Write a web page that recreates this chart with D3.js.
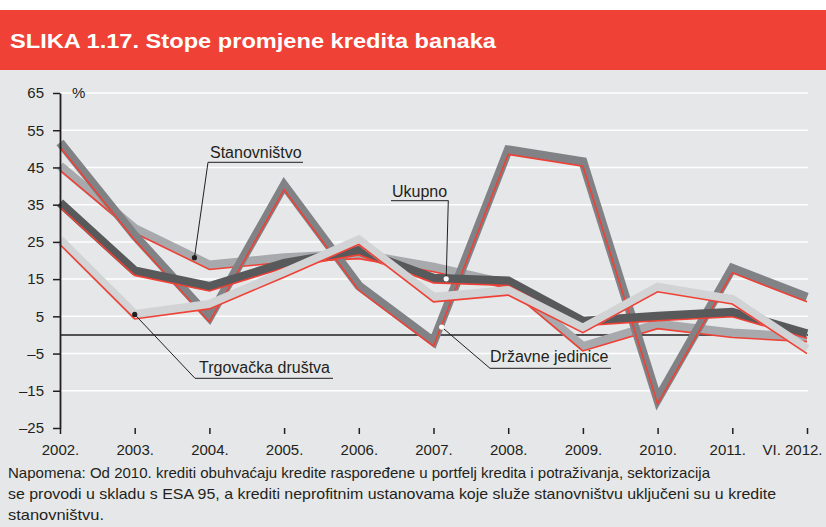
<!DOCTYPE html>
<html><head>
<meta charset="utf-8">
<title>Slika 1.17</title>
<style>
  body {margin:0; background:#e6e7e8;}
  svg {display:block; font-family:"Liberation Sans", Arial, Helvetica, sans-serif;}
</style>
</head>
<body>
<script src="https://d3js.org/d3.v7.min.js"></script>
<script>
// podaci (postotak promjene)
var years = ["2002.","2003.","2004.","2005.","2006.","2007.","2008.","2009.","2010.","2011.","VI. 2012."];
var stanovnistvo = [44.2, 27.4, 17.6, 19.5, 20.5, 17.0, 12.5, -4.3, 1.7, -0.7, -1.8];
var drzavne      = [50.5, 25.5, 3.5, 39.0, 12.0, -3.0, 48.5, 45.3, -18.5, 16.7, 8.9];
var ukupno       = [34.3, 16.0, 11.8, 18.0, 21.5, 14.0, 13.3, 2.5, 3.8, 4.9, -0.9];
var trgovacka    = [24.3, 4.3, 7.0, 15.5, 24.3, 8.9, 10.7, 0.6, 11.6, 8.3, -5.0];
var yTicks = [65, 55, 45, 35, 25, 15, 5, -5, -15, -25];

var width = 826, height = 527;
var ink = "#231f20", red = "#ef4136";

var svg = d3.select("body").append("svg")
    .attr("width", width)
    .attr("height", height);

svg.append("rect").attr("width", width).attr("height", height).attr("fill", "#e6e7e8");
svg.append("rect").attr("width", width).attr("height", 10).attr("fill", "#ffffff");
svg.append("rect").attr("y", 10).attr("width", width).attr("height", 60).attr("fill", red);
svg.append("text")
    .attr("x", 10).attr("y", 48)
    .attr("fill", "#fff")
    .attr("font-size", 20)
    .attr("font-weight", "bold")
    .attr("textLength", 486)
    .attr("lengthAdjust", "spacingAndGlyphs")
    .text("SLIKA 1.17. Stope promjene kredita banaka");

var x = d3.scalePoint().domain(years).range([60, 807]);
var y = d3.scaleLinear().domain([-25, 65]).range([428, 93]);

// bijele linije mreze
svg.append("g").selectAll("line")
    .data(yTicks.filter(function(d){ return d > -25; }))
    .enter().append("line")
    .attr("x1", 60).attr("x2", 808)
    .attr("y1", function(d){ return y(d); })
    .attr("y2", function(d){ return y(d); })
    .attr("stroke", "#fff").attr("stroke-width", 1.5);

// nula
svg.append("line")
    .attr("x1", 60).attr("x2", 808)
    .attr("y1", y(0)).attr("y2", y(0))
    .attr("stroke", ink).attr("stroke-width", 1.6);

var series = [
  {name:"Stanovništvo", values:stanovnistvo, color:"#a7a9ac"},
  {name:"Državne jedinice", values:drzavne, color:"#808285"},
  {name:"Ukupno", values:ukupno, color:"#58595b"},
  {name:"Trgovačka društva", values:trgovacka, color:"#d1d3d4"}
];

var shift = 4.5; // siva traka iznad crvene linije
var line = d3.line()
    .x(function(d, i){ return x(years[i]); })
    .y(function(d){ return y(d); });

series.forEach(function(s){
  var g = svg.append("g");
  g.append("path")
    .attr("d", line(s.values))
    .attr("transform", "translate(0," + (-shift) + ")")
    .attr("fill", "none")
    .attr("stroke", s.color)
    .attr("stroke-width", 9)
    .attr("stroke-linejoin", "miter")
    .attr("stroke-miterlimit", 10);
  g.append("path")
    .attr("d", line(s.values))
    .attr("fill", "none")
    .attr("stroke", red)
    .attr("stroke-width", 1.6)
    .attr("stroke-linejoin", "miter");
});

// osi
var yAxis = svg.append("g")
    .attr("transform", "translate(60,0)")
    .call(d3.axisLeft(y).tickValues(yTicks).tickSize(7).tickSizeOuter(0).tickPadding(9)
      .tickFormat(function(d){ return d < 0 ? "\u2013" + Math.abs(d) : d; }));
yAxis.select(".domain").attr("stroke", ink).attr("stroke-width", 1.8);
yAxis.selectAll(".tick line").attr("stroke", ink).attr("stroke-width", 1.5);
yAxis.selectAll("text").attr("font-size", 15).attr("fill", ink)
    .attr("font-family", "Liberation Sans, Arial, sans-serif");

var xAxis = svg.append("g")
    .attr("transform", "translate(0,428)")
    .call(d3.axisBottom(x).tickSize(6).tickSizeOuter(0).tickPadding(10));
xAxis.select(".domain").remove();
xAxis.selectAll(".tick line").attr("stroke", ink).attr("stroke-width", 1.5);
xAxis.selectAll("text").attr("font-size", 15).attr("fill", ink)
    .attr("font-family", "Liberation Sans, Arial, sans-serif");
xAxis.selectAll(".tick").filter(function(d){ return d === "VI. 2012."; })
    .select("text").attr("text-anchor", "end").attr("x", 15);
xAxis.selectAll(".tick").filter(function(d){ return d === "2011."; })
    .select("text").attr("x", -5);

svg.append("text")
    .attr("x", 72).attr("y", 98)
    .attr("font-size", 15).attr("fill", ink)
    .text("%");

// oznake serija
function pointOn(values, i, t, dx) {
  var v = values[i] + t * (values[i + 1] - values[i]);
  var px = x(years[i]) + t * (x(years[i + 1]) - x(years[i]));
  return [px + (dx || 0), y(v) - shift];
}

var labels = [
  {text:"Stanovništvo", tx:210, ty:157.5, ux1:208, ux2:303, uy:162.3, ax:208,
   p:pointOn(stanovnistvo, 1, 0.8), dot:ink},
  {text:"Ukupno", tx:392, ty:196.7, ux1:391, ux2:448.5, uy:200.7, ax:448.3,
   p:pointOn(ukupno, 5, 0.17), dot:"#fff"},
  {text:"Državne jedinice", tx:490, ty:361.7, ux1:490, ux2:611, uy:368.3, ax:490,
   p:pointOn(drzavne, 5, 0.076, 2.5), dot:"#fff"},
  {text:"Trgovačka društva", tx:199, ty:373.3, ux1:195, ux2:333, uy:378.3, ax:195,
   p:pointOn(trgovacka, 1, 0, 0), dot:ink}
];

labels.forEach(function(l){
  svg.append("text")
    .attr("x", l.tx).attr("y", l.ty)
    .attr("font-size", 16).attr("fill", ink)
    .text(l.text);
  svg.append("line")
    .attr("x1", l.ux1).attr("x2", l.ux2)
    .attr("y1", l.uy).attr("y2", l.uy)
    .attr("stroke", ink).attr("stroke-width", 1);
  svg.append("line")
    .attr("x1", l.ax).attr("y1", l.uy)
    .attr("x2", l.p[0]).attr("y2", l.p[1])
    .attr("stroke", ink).attr("stroke-width", 1);
  svg.append("circle")
    .attr("cx", l.p[0]).attr("cy", l.p[1])
    .attr("r", 2.6)
    .attr("fill", l.dot);
});

// napomena
var note = [
  {t:"Napomena: Od 2010. krediti obuhvaćaju kredite raspoređene u portfelj kredita i potraživanja, sektorizacija", w:702},
  {t:"se provodi u skladu s ESA 95, a krediti neprofitnim ustanovama koje služe stanovništvu uključeni su u kredite", w:768},
  {t:"stanovništvu.", w:96}
];
svg.append("g").selectAll("text")
    .data(note)
    .enter().append("text")
    .attr("x", 8)
    .attr("y", function(d, i){ return 478 + i * 21; })
    .attr("font-size", 15)
    .attr("fill", ink)
    .attr("textLength", function(d){ return d.w; })
    .attr("lengthAdjust", "spacingAndGlyphs")
    .text(function(d){ return d.t; });
</script>
</body></html>
